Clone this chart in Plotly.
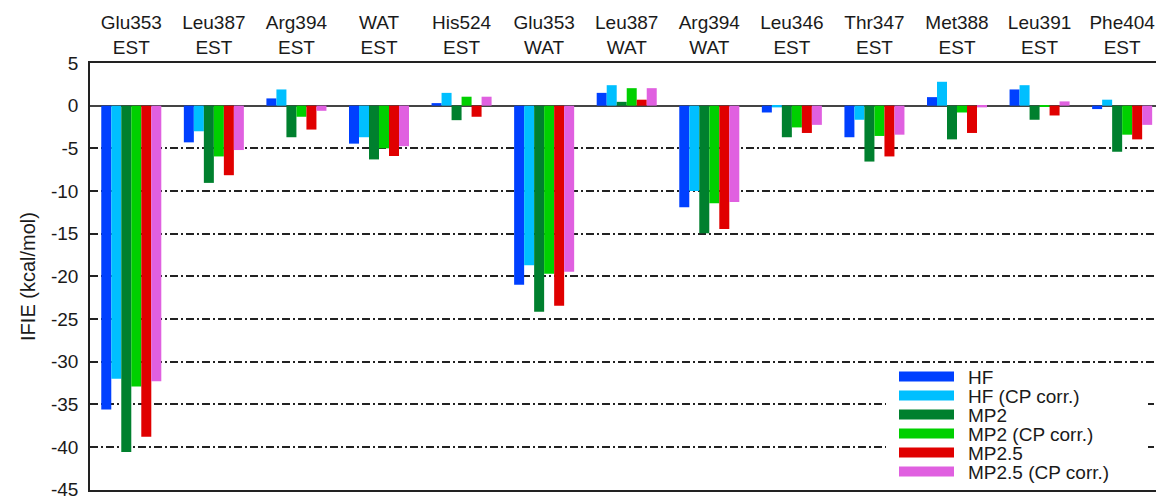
import plotly.graph_objects as go

# Fragment pairs (residue / ligand or water) shown along the top axis
labels = ["Glu353<br>EST", "Leu387<br>EST", "Arg394<br>EST", "WAT<br>EST", "His524<br>EST",
          "Glu353<br>WAT", "Leu387<br>WAT", "Arg394<br>WAT", "Leu346<br>EST", "Thr347<br>EST",
          "Met388<br>EST", "Leu391<br>EST", "Phe404<br>EST"]

# IFIE values (kcal/mol) per method
hf      = [-35.6, -4.3, 0.85, -4.45, 0.3, -21.0, 1.5, -11.9, -0.8, -3.7, 1.0, 1.9, -0.4]
hf_cp   = [-32.0, -3.0, 1.9, -3.7, 1.5, -18.7, 2.4, -10.0, -0.2, -1.65, 2.8, 2.4, 0.7]
mp2     = [-40.6, -9.05, -3.7, -6.3, -1.7, -24.15, 0.45, -14.95, -3.7, -6.55, -3.95, -1.65, -5.4]
mp2_cp  = [-32.9, -5.95, -1.3, -5.0, 1.05, -19.7, 2.05, -11.45, -2.55, -3.55, -0.8, -0.1, -3.4]
mp25    = [-38.8, -8.15, -2.8, -5.9, -1.3, -23.45, 0.7, -14.45, -3.2, -5.95, -3.2, -1.15, -3.95]
mp25_cp = [-32.3, -5.2, -0.6, -4.75, 1.05, -19.45, 2.05, -11.3, -2.25, -3.4, -0.2, 0.5, -2.25]

series_names = ["HF", "HF (CP corr.)", "MP2", "MP2 (CP corr.)", "MP2.5", "MP2.5 (CP corr.)"]
series_values = [hf, hf_cp, mp2, mp2_cp, mp25, mp25_cp]
series_colors = ["#0040FF", "#00BFFF", "#00802E", "#00D000", "#E00000", "#E060E0"]

y_ticks = [5, 0, -5, -10, -15, -20, -25, -30, -35, -40, -45]
y_tick_text = [str(v) for v in y_ticks]

FONT = "Liberation Sans, Arial, sans-serif"
TEXT = "#1a1a1a"
W, H = 1156, 500
L, R, T, B = 90, 0, 63, 8

fig = go.Figure()
for name, vals, col in zip(series_names, series_values, series_colors):
    fig.add_trace(go.Bar(x=labels, y=vals, name=name, marker=dict(color=col, line=dict(width=0)),
                         showlegend=False))

# pixel -> paper helpers for the hand-built legend block
def px(x):
    return (x - L) / (W - L - R)

def py(y):
    return (H - B - y) / (H - T - B)

shapes = [dict(type="rect", xref="paper", yref="paper", x0=px(886), x1=px(1148),
               y0=py(488), y1=py(368), fillcolor="white", line=dict(width=0), layer="above")]
annotations = []
for i, (name, col) in enumerate(zip(series_names, series_colors)):
    yc = 378 + i * 19.1
    shapes.append(dict(type="rect", xref="paper", yref="paper", x0=px(899), x1=px(954),
                       y0=py(yc + 5), y1=py(yc - 5), fillcolor=col, line=dict(width=0), layer="above"))
    annotations.append(dict(xref="paper", yref="paper", x=px(966), y=py(yc + 1), text=name,
                            showarrow=False, xanchor="left", yanchor="middle",
                            font=dict(family=FONT, size=19, color=TEXT)))

fig.update_layout(
    width=W, height=H,
    margin=dict(l=L, r=R, t=T, b=B),
    paper_bgcolor="white", plot_bgcolor="white",
    barmode="group", bargap=0.273, bargroupgap=0,
    font=dict(family=FONT, size=19, color=TEXT),
    shapes=shapes, annotations=annotations,
    xaxis=dict(side="top", range=[-0.5, 12.41], showline=True, mirror=True,
               linecolor="#222", linewidth=1.6, showgrid=False, ticks="",
               tickfont=dict(family=FONT, size=19, color=TEXT)),
    yaxis=dict(range=[-45.04, 5.0], tickvals=y_ticks, ticktext=y_tick_text,
               showline=True, linecolor="#222", linewidth=1.6, mirror=False,
               showgrid=True, gridcolor="#222", gridwidth=1.5, griddash="8px,3px,2px,3px",
               zeroline=True, zerolinecolor="#444", zerolinewidth=1.5,
               ticks="", ticklabelstandoff=6, ticklabeloverflow="allow",
               tickfont=dict(family=FONT, size=19, color=TEXT),
               title=dict(text="IFIE (kcal/mol)", font=dict(family=FONT, size=20, color=TEXT),
                          standoff=10)),
)

fig.write_html("out.html")
